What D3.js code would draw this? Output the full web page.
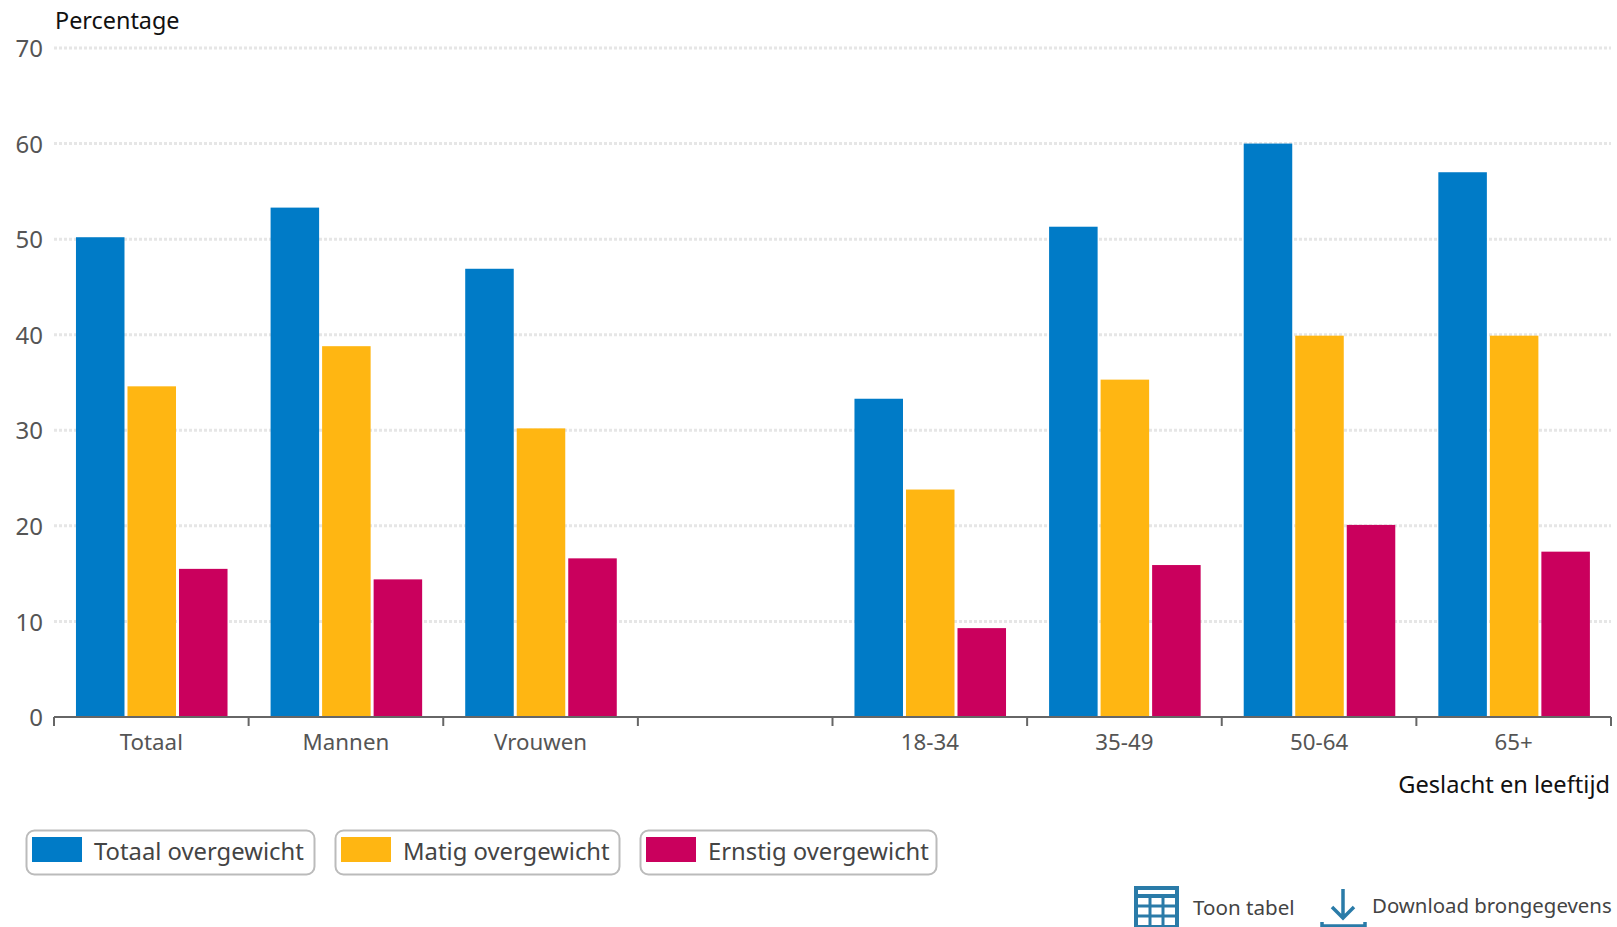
<!DOCTYPE html>
<html>
<head>
<meta charset="utf-8">
<script src="https://cdn.jsdelivr.net/npm/d3@7/dist/d3.min.js"></script>
<style>
  html, body { margin: 0; padding: 0; background: #fff; overflow: hidden; }
  svg { display: block; font-family: "Noto Sans", sans-serif; }
</style>
</head>
<body>
<svg id="chart" width="1617" height="927"></svg>
<script>
// Overweight among adults, by sex and age group (percent)
const categories = ["Totaal", "Mannen", "Vrouwen", "", "18-34", "35-49", "50-64", "65+"];
const seriesNames = ["Totaal overgewicht", "Matig overgewicht", "Ernstig overgewicht"];
const seriesColors = ["#007bc7", "#ffb612", "#ca005d"];
const totaalOvergewicht = [50.2, 53.3, 46.9, null, 33.3, 51.3, 60.0, 57.0];
const matigOvergewicht = [34.6, 38.8, 30.2, null, 23.8, 35.3, 39.9, 39.9];
const ernstigOvergewicht = [15.5, 14.4, 16.6, null, 9.3, 15.9, 20.1, 17.3];
const seriesValues = [totaalOvergewicht, matigOvergewicht, ernstigOvergewicht];
const yTicks = [0, 10, 20, 30, 40, 50, 60, 70];

const svg = d3.select("#chart");
const plot = { left: 54, right: 1611, top: 48, bottom: 717 };
const fontFamily = '"Noto Sans", sans-serif';

const x = d3.scaleBand().domain(categories).range([plot.left, plot.right]);
const inner = d3.scaleBand().domain(d3.range(seriesNames.length))
  .range([0, x.bandwidth()]).paddingInner(0.058).paddingOuter(0.418).align(0.51);
const y = d3.scaleLinear().domain([0, 70]).range([plot.bottom, plot.top]);

// Dotted horizontal gridlines
svg.append("g").selectAll("line").data(yTicks.filter(d => d > 0)).join("line")
  .attr("x1", plot.left).attr("x2", plot.right)
  .attr("y1", d => y(d)).attr("y2", d => y(d))
  .attr("stroke", "#e6e6e6").attr("stroke-width", 3).attr("stroke-dasharray", "3 2");

// Value axis labels
const yAxis = svg.append("g").attr("transform", `translate(${plot.left},1)`)
  .call(d3.axisLeft(y).tickValues(yTicks).tickSize(0).tickPadding(11));
yAxis.select(".domain").remove();
yAxis.selectAll("text").attr("font-size", 24).attr("font-family", fontFamily).attr("fill", "#555");

// Bars
svg.append("g").selectAll("g").data(seriesValues).join("g")
  .attr("fill", (d, i) => seriesColors[i])
  .each(function (values, s) {
    d3.select(this).selectAll("rect")
      .data(values.map((v, i) => ({ v, cat: categories[i] })).filter(d => d.v !== null))
      .join("rect")
      .attr("x", d => x(d.cat) + inner(s))
      .attr("width", inner.bandwidth())
      .attr("y", d => y(d.v))
      .attr("height", d => y(0) - y(d.v));
  });

// Category axis: ticks sit on band edges, labels at band centres
const axisG = svg.append("g").attr("transform", `translate(0,${plot.bottom})`);
axisG.append("line").attr("x1", plot.left).attr("x2", plot.right)
  .attr("stroke", "#666").attr("stroke-width", 2);
const edges = categories.map(c => x(c)).concat(plot.right);
axisG.selectAll("line.tick").data(edges).join("line").attr("class", "tick")
  .attr("x1", d => d).attr("x2", d => d).attr("y1", 0).attr("y2", 9)
  .attr("stroke", "#666").attr("stroke-width", 2);
axisG.selectAll("text").data(categories).join("text")
  .attr("x", d => x(d) + x.bandwidth() / 2)
  .attr("y", 33).attr("text-anchor", "middle")
  .attr("font-size", 22.3).attr("fill", "#555").text(d => d);

// Axis titles
svg.append("text").attr("x", 55).attr("y", 29).attr("font-size", 23.4).attr("fill", "#111").text("Percentage");
svg.append("text").attr("x", 1610).attr("y", 793).attr("text-anchor", "end")
  .attr("font-size", 23.6).attr("fill", "#111").text("Geslacht en leeftijd");

// Legend buttons
const legendBoxes = [[26, 288], [335, 284], [640, 296]];
const legend = svg.append("g").selectAll("g").data(seriesNames).join("g")
  .attr("transform", (d, i) => `translate(${legendBoxes[i][0]},830)`);
legend.append("rect").attr("x", 0.5).attr("y", 0.5)
  .attr("width", (d, i) => legendBoxes[i][1]).attr("height", 44).attr("rx", 8)
  .attr("fill", "#fff").attr("stroke", "#bbb").attr("stroke-width", 2);
legend.append("rect").attr("x", 6).attr("y", 7).attr("width", 50).attr("height", 25)
  .attr("fill", (d, i) => seriesColors[i]);
legend.append("text").attr("x", 68).attr("y", 30).attr("font-size", 23.8).attr("fill", "#444").text(d => d);

// Table and download links
const linkColor = "#2a7ba8";
const table = svg.append("g").attr("transform", "translate(1136,888)")
  .attr("fill", "none").attr("stroke", linkColor);
table.append("rect").attr("x", 0).attr("y", 0).attr("width", 41).attr("height", 39).attr("stroke-width", 4);
table.append("line").attr("x1", 0).attr("x2", 41).attr("y1", 8).attr("y2", 8).attr("stroke-width", 4);
[18, 28].forEach(v => table.append("line").attr("x1", 0).attr("x2", 41).attr("y1", v).attr("y2", v).attr("stroke-width", 3));
[14, 27].forEach(v => table.append("line").attr("x1", v).attr("x2", v).attr("y1", 8).attr("y2", 39).attr("stroke-width", 3));
svg.append("text").attr("x", 1193).attr("y", 915).attr("font-size", 20.6).attr("fill", "#444").text("Toon tabel");

const dl = svg.append("g").attr("fill", "none").attr("stroke", linkColor).attr("stroke-width", 3.5);
dl.append("path").attr("d", "M1343 889V917M1332 907L1343 918L1354 907");
dl.append("path").attr("d", "M1322 922V926H1365V922");
svg.append("text").attr("x", 1372).attr("y", 913).attr("font-size", 20.4).attr("fill", "#444").text("Download brongegevens");
</script>
</body>
</html>
